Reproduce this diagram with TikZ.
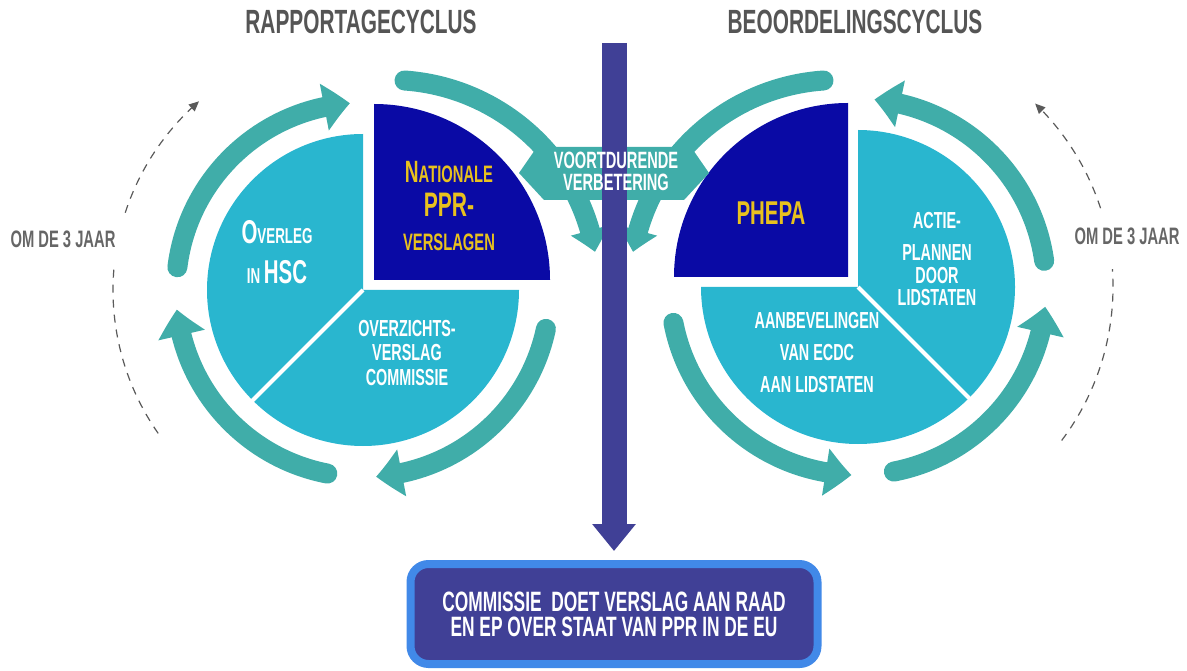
\documentclass[tikz,border=0pt]{standalone}
\usepackage{fontspec}
\setmainfont{Liberation Sans}[FakeStretch=0.62]
\usetikzlibrary{arrows.meta,bending,calc,positioning}
\definecolor{ringteal}{RGB}{64,173,169}
\definecolor{pieblue}{RGB}{41,182,207}
\definecolor{deepblue}{RGB}{10,10,165}
\definecolor{gold}{RGB}{232,193,30}
\definecolor{barpurple}{RGB}{64,64,150}
\definecolor{boxblue}{RGB}{65,137,232}
\definecolor{headgray}{RGB}{85,85,85}
\definecolor{dashgray}{RGB}{90,90,90}
\newcommand{\capsize}[2]{{\fontsize{#1}{#1}\selectfont #2}}
\tikzset{
  ring/.style={draw=ringteal,line width=10pt,line cap=round,-{Triangle[length=13pt,width=23pt,bend]}},
  bigring/.style={ring,-{Triangle[length=11pt,width=19pt,bend]}},
  yeararc/.style={draw=dashgray,line width=0.6pt,dash pattern=on 4pt off 3.5pt},
  yeararrow/.style={yeararc,-{Triangle[length=5pt,width=4.5pt]}},
  headline/.style={text=headgray,font=\bfseries\fontsize{16.8}{18}\selectfont},
  sidetxt/.style={text=headgray!90,font=\bfseries\fontsize{11.9}{13}\selectfont},
  pietxt/.style={text=white,align=center,font=\bfseries\fontsize{11.6}{16}\selectfont},
  bararrow/.style={draw=barpurple,line width=12.5pt,-{Triangle[length=13.5pt,width=21pt]}},
  reportbox/.style={draw=boxblue,line width=4pt,fill=barpurple,rounded corners=9pt,
    minimum width=203.5pt,minimum height=50pt,text=white,align=center,
    font=\bfseries\fontsize{14}{12.5}\selectfont}
}
\begin{document}
\begin{tikzpicture}[x=0.5pt,y=0.5pt]
\useasboundingbox (0,0) rectangle (1187,670);
\coordinate (L) at (363,380);
\coordinate (R) at (858,383);
\coordinate (Lbig) at (390,382);
\coordinate (Rbig) at (838,382);
\coordinate (V) at (614,497);
\coordinate (bartop) at (614,627);

% every three years
\draw[yeararc] ($(L)+(215:250)$) arc[start angle=215,end angle=174,radius=250];
\draw[yeararrow] ($(L)+(162:250)$) arc[start angle=162,end angle=131,radius=250];
\draw[yeararc] ($(R)+(-37:255)$) arc[start angle=-37,end angle=4,radius=255];
\draw[yeararrow] ($(R)+(18:255)$) arc[start angle=18,end angle=46,radius=255];

% left cycle
\fill[pieblue] (L) -- ++(90:156) arc[start angle=90,end angle=225,radius=156] -- cycle;
\fill[pieblue] (L) -- ++(225:156) arc[start angle=225,end angle=360,radius=156] -- cycle;
\draw[white,line width=2pt] (L) -- ++(225:160);
\fill[deepblue] (374,390) -- ++(0:176) arc[start angle=0,end angle=90,radius=176] -- cycle;
\draw[ring] ($(L)+(173:187)$) arc[start angle=173,end angle=94,radius=187];
\draw[ring] ($(L)+(259:187)$) arc[start angle=259,end angle=186,radius=187];
\draw[ring] ($(L)+(-12:187)$) arc[start angle=-12,end angle=-86,radius=187];
\draw[bigring] ($(Lbig)+(86:208)$) arc[start angle=86,end angle=10,radius=208];

% right cycle
\fill[pieblue] (R) -- ++(-45:157) arc[start angle=-45,end angle=90,radius=157] -- cycle;
\fill[pieblue] (R) -- ++(180:157) arc[start angle=180,end angle=315,radius=157] -- cycle;
\draw[white,line width=2pt] (R) -- ++(-45:160);
\fill[deepblue] (848,393) -- ++(90:174) arc[start angle=90,end angle=180,radius=174] -- cycle;
\draw[ring] ($(R)+(8:188)$) arc[start angle=8,end angle=85,radius=188];
\draw[ring] ($(R)+(-79:188)$) arc[start angle=-79,end angle=-6,radius=188];
\draw[ring] ($(R)+(191:188)$) arc[start angle=191,end angle=268,radius=188];
\draw[bigring] ($(Rbig)+(94:208)$) arc[start angle=94,end angle=170,radius=208];

% banner and bar
\fill[ringteal] ($(V)+(-95,0)$) -- ($(V)+(-77,26)$) -- ($(V)+(77,26)$) -- ($(V)+(95,0)$)
  -- ($(V)+(70,-27)$) -- ($(V)+(-70,-27)$) -- cycle;
\node[reportbox] (report) at (614,56) {COMMISSIE~~DOET VERSLAG AAN RAAD\\EN EP OVER STAAT VAN PPR IN DE EU};
\draw[bararrow] (bartop) -- ([yshift=4.5pt]report.north);
\node[pietxt,font=\bfseries\fontsize{11.8}{11}\selectfont] (verbetering) at (616,499) {VOORTDURENDE\\VERBETERING};

% labels
\node[headline] (cycleA) at (361,648) {RAPPORTAGECYCLUS};
\node[headline] (cycleB) at (855,648) {BEOORDELINGSCYCLUS};
\node[sidetxt] (yearsA) at (63,431) {OM DE 3 JAAR};
\node[sidetxt] (yearsB) at (1127,434) {OM DE 3 JAAR};
\node[pietxt,font=\bfseries\fontsize{10.8}{20}\selectfont] (hsc) at (277,418)
  {\capsize{16.5}{O}VERLEG\\IN \capsize{16.5}{HSC}};
\node[pietxt,text=gold,font=\bfseries\fontsize{11.9}{17}\selectfont] (nat) at (449,464)
  {\capsize{15.4}{N}ATIONALE\\\capsize{17}{PPR-}\\VERSLAGEN};
\node[pietxt,font=\bfseries\fontsize{11.6}{12.3}\selectfont] (overzicht) at (407,317)
  {OVERZICHTS-\\VERSLAG\\COMMISSIE};
\node[pietxt,text=gold,font=\bfseries\fontsize{16.5}{17}\selectfont] (phepa) at (771,457) {PHEPA};
\node[pietxt,font=\bfseries\fontsize{11.6}{11.3}\selectfont] (actie) at (937,411)
  {ACTIE-\\[5pt]PLANNEN\\DOOR\\LIDSTATEN};
\node[pietxt] (ecdc) at (817,317) {AANBEVELINGEN\\VAN ECDC\\AAN LIDSTATEN};
\end{tikzpicture}
\end{document}
